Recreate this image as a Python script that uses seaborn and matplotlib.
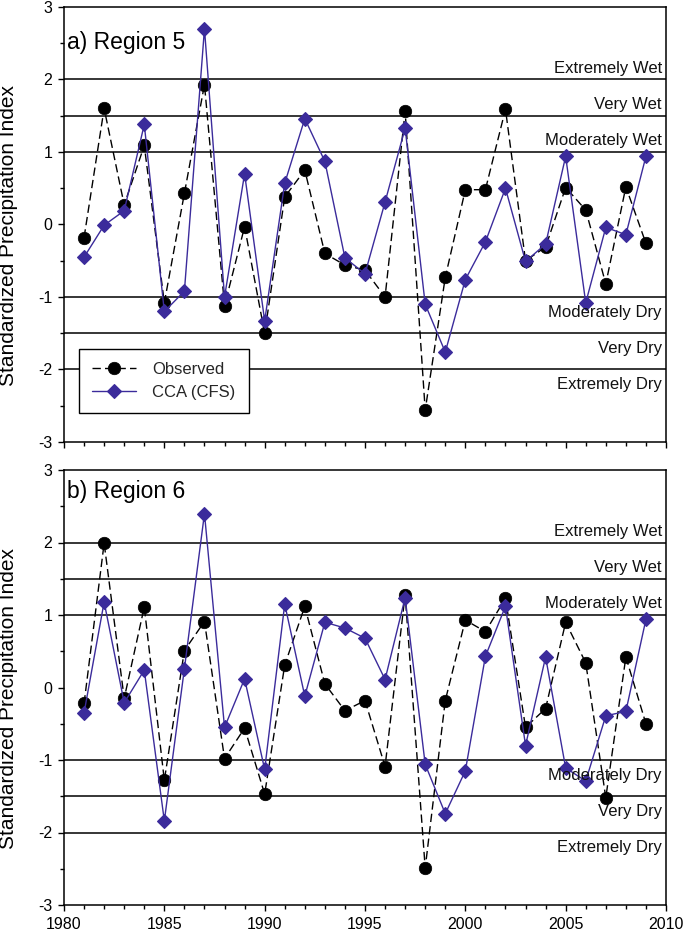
import matplotlib
matplotlib.use("Agg")
import matplotlib.pyplot as plt
import numpy as np
import pandas as pd
import seaborn as sns
from matplotlib.ticker import MultipleLocator

# ---------------- data ----------------
years = list(range(1981, 2010))

r5_obs = [-0.18, 1.60, 0.27, 1.09, -1.08, 0.43, 1.93, -1.12, -0.03, -1.50,
          0.38, 0.75, -0.40, -0.56, -0.63, -1.00, 1.56, -2.56, -0.73, 0.48,
          0.48, 1.59, -0.50, -0.31, 0.51, 0.20, -0.82, 0.52, -0.26]
r5_cca = [-0.45, -0.01, 0.19, 1.38, -1.20, -0.92, 2.70, -1.00, 0.70, -1.33,
          0.57, 1.46, 0.87, -0.46, -0.68, 0.31, 1.33, -1.10, -1.76, -0.76,
          -0.24, 0.50, -0.51, -0.27, 0.94, -1.08, -0.04, -0.14, 0.94]
r6_obs = [-0.22, 1.99, -0.15, 1.11, -1.28, 0.51, 0.91, -0.98, -0.56, -1.47,
          0.31, 1.12, 0.05, -0.32, -0.18, -1.09, 1.28, -2.49, -0.18, 0.93,
          0.77, 1.23, -0.55, -0.29, 0.90, 0.34, -1.52, 0.42, -0.50]
r6_cca = [-0.35, 1.18, -0.21, 0.24, -1.84, 0.26, 2.40, -0.55, 0.12, -1.13,
          1.15, -0.12, 0.90, 0.82, 0.68, 0.11, 1.24, -1.06, -1.74, -1.15,
          0.43, 1.12, -0.80, 0.42, -1.11, -1.29, -0.39, -0.33, 0.94]

thresholds = [2.0, 1.5, 1.0, -1.0, -1.5, -2.0]
threshold_labels = ["Extremely Wet", "Very Wet", "Moderately Wet",
                    "Moderately Dry", "Very Dry", "Extremely Dry"]
panel_titles = ["a) Region 5", "b) Region 6"]
series_names = ["Observed", "CCA (CFS)"]
x_ticks = [1980, 1985, 1990, 1995, 2000, 2005, 2010]
y_ticks = [-3, -2, -1, 0, 1, 2, 3]
y_label = "Standardized Precipitation Index"

# ---------------- style ----------------
sns.set_style("ticks")
plt.rcParams["font.family"] = ["Liberation Sans", "DejaVu Sans"]
plt.rcParams["axes.linewidth"] = 1.1
plt.rcParams["axes.unicode_minus"] = False

CCA_COLOR = "#3b2b9b"

fig = plt.figure(figsize=(6.85, 9.35), dpi=100)
ax_top = fig.add_axes([64 / 685, 1 - 442 / 935, 602 / 685, 435 / 935])
ax_bot = fig.add_axes([64 / 685, 1 - 905 / 935, 602 / 685, 435 / 935])

panels = [
    (ax_top, r5_obs, r5_cca, panel_titles[0], 2.42),
    (ax_bot, r6_obs, r6_cca, panel_titles[1], 2.61),
]

for ax, obs, cca, title, title_y in panels:
    df = pd.DataFrame({"Year": years, series_names[0]: obs, series_names[1]: cca})

    for yv in thresholds:
        ax.axhline(yv, color="black", lw=1.1, zorder=1)

    sns.lineplot(data=df, x="Year", y=series_names[1], ax=ax, color=CCA_COLOR,
                 lw=1.0, marker="D", markersize=7, markeredgecolor=CCA_COLOR,
                 markerfacecolor=CCA_COLOR, markeredgewidth=0.8, zorder=3,
                 label=series_names[1], legend=False)
    sns.lineplot(data=df, x="Year", y=series_names[0], ax=ax, color="black",
                 lw=1.0, dashes=False, marker="o", markersize=9,
                 markeredgecolor="black", markerfacecolor="black",
                 markeredgewidth=0.5, zorder=2,
                 label=series_names[0], legend=False)
    # make observed dashed
    ax.lines[-1].set_dashes((6, 3))

    ax.set_xlim(1980, 2010)
    ax.set_ylim(-3, 3)
    ax.set_xticks(x_ticks)
    ax.xaxis.set_minor_locator(MultipleLocator(1))
    ax.set_yticks(y_ticks)
    ax.yaxis.set_minor_locator(MultipleLocator(0.5))
    ax.tick_params(which="major", direction="out", length=4.5, width=1.0,
                   labelsize=11.5, pad=4, color="black", labelcolor="black")
    ax.tick_params(which="minor", direction="out", length=3, width=1.0,
                   color="black")
    for sp in ax.spines.values():
        sp.set_visible(True)
        sp.set_color("black")
        sp.set_linewidth(1.1)

    ax.set_xlabel("")
    ax.set_ylabel(y_label, fontsize=15, color="black")
    ax.yaxis.set_label_coords(-0.076, 0.475)

    # threshold labels
    for yv, lab in zip(thresholds, threshold_labels):
        ybase = yv + 0.09 if yv > 0 else yv - 0.27
        ax.text(2009.8, ybase, lab, ha="right", va="baseline",
                fontsize=12, color="#111111", zorder=4)

    ax.text(1980.15, title_y, title, ha="left", va="baseline",
            fontsize=16.5, color="black", zorder=4)

ax_top.tick_params(axis="x", which="both", labelbottom=False)

# legend on top panel
handles = [ax_top.lines[-1], ax_top.lines[-2]]
leg = ax_top.legend(handles, series_names, loc="lower left",
                    bbox_to_anchor=(0.025, 0.067), borderaxespad=0,
                    fontsize=12, frameon=True, fancybox=False, shadow=False,
                    handlelength=2.6, handletextpad=1.0, labelspacing=0.45,
                    borderpad=0.8, numpoints=1)
leg.get_frame().set_edgecolor("black")
leg.get_frame().set_linewidth(1.0)
leg.get_frame().set_alpha(1)
leg.set_zorder(5)

fig.savefig("out.png", dpi=100, facecolor="white")
